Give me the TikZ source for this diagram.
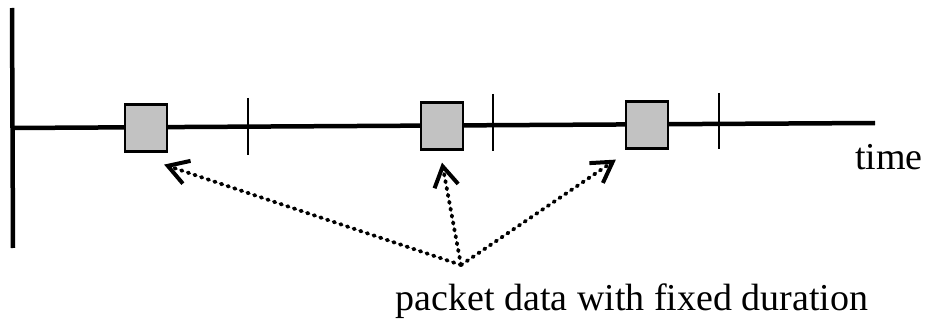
\documentclass[tikz,border=0pt]{standalone}
\usepackage{fontspec}
\setmainfont{Liberation Serif}
\usetikzlibrary{arrows.meta, positioning}

\begin{document}
\begin{tikzpicture}[x=1pt, y=-1pt,
    packet/.style={draw, line width=2.2pt, fill=black!24, minimum width=42pt, minimum height=47pt, inner sep=0pt},
    tick/.style={line width=2pt},
    pktarrow/.style={line width=3.8pt, line cap=round, dash pattern=on 1.5pt off 5.5pt, -{Straight Barb[length=20pt, width=24pt, line width=4pt]}},
    label/.style={font=\fontsize{38}{40}\selectfont, inner sep=0pt}]
    \useasboundingbox (0,0) rectangle (929,326);

    % Axes
    \draw[line width=4.5pt] (12,8) -- (13,248);
    \draw[line width=4.5pt] (12,128) -- (875,123);
    \node[label, anchor=base west] (time) at (855,170) {time};

    % Slot boundaries
    \draw[tick] (248,98) -- (248,155);
    \draw[tick] (493,94) -- (493,151);
    \draw[tick] (719,93) -- (719,149);

    % Packets
    \node[packet] (pkt1) at (146,128) {};
    \node[packet] (pkt2) at (442,126) {};
    \node[packet] (pkt3) at (647,125) {};

    % Label and pointers
    \node[label, anchor=base] (caption) at (632,310) {packet data with fixed duration};
    \coordinate (src) at (461,265);
    \draw[pktarrow] (src) -- ([xshift=-4pt, yshift=-12pt]pkt1.south east);
    \draw[pktarrow] (src) -- ([yshift=-12pt]pkt2.south);
    \draw[pktarrow] (src) -- ([xshift=-9pt, yshift=-10pt]pkt3.south west);
\end{tikzpicture}
\end{document}
